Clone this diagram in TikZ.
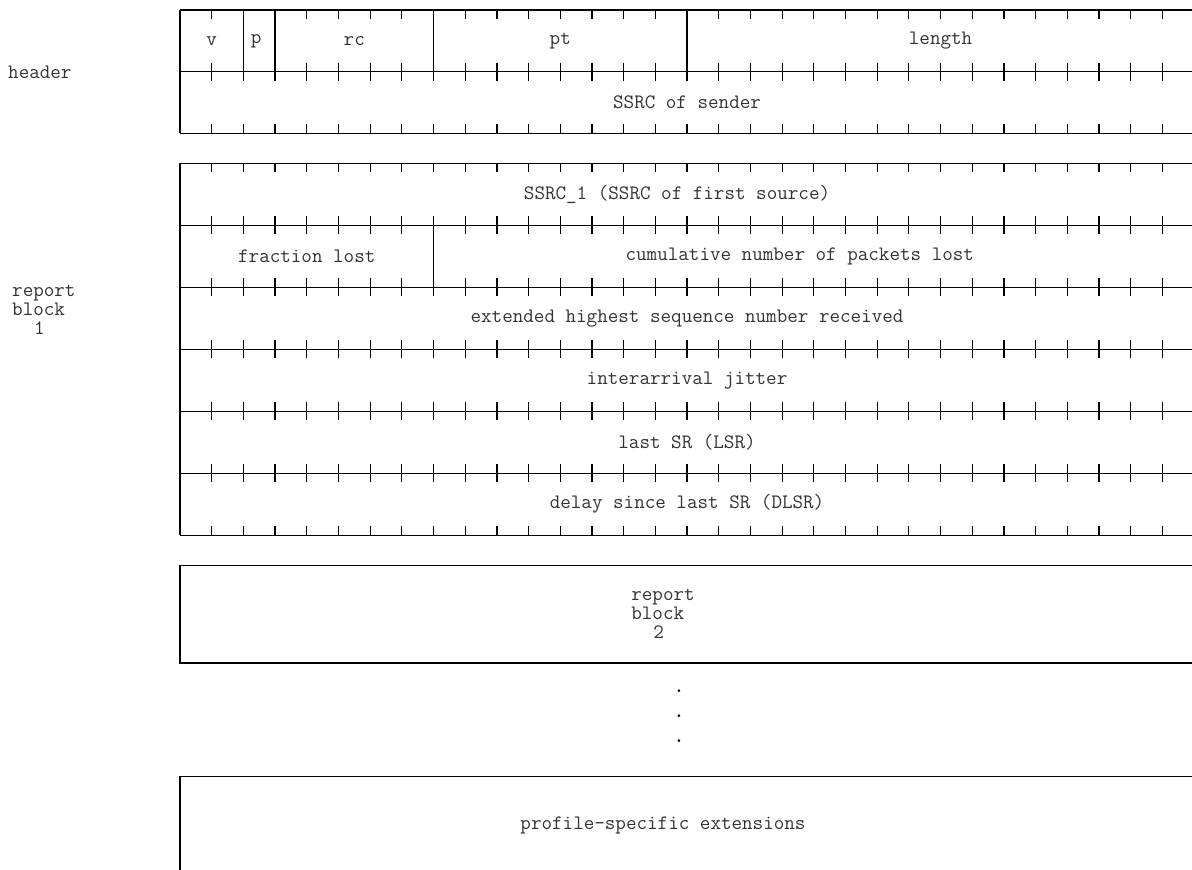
\documentclass[tikz,border=0pt]{standalone}
\usepackage{fontspec}
\begin{document}
\begin{tikzpicture}[x=1pt,y=-1pt,
  lbl/.style={font=\ttfamily\fontsize{20.5}{19}\selectfont, inner sep=0pt, text=black!80},
  dot/.style={font=\ttfamily\fontsize{24}{24}\selectfont, inner sep=0pt, text=black},
  rule/.style={line width=1.2pt, draw=black}]
\useasboundingbox (0,0) rectangle (1192,870);
\clip (0,0) rectangle (1192,870);
\def\bw{31.69}
\def\L{180}
% ---------------- header ----------------
\draw[rule] (\L,10) -- (1200,10);
\draw[rule] (\L,71.7) -- (1200,71.7);
\draw[rule] (\L,133.4) -- (1200,133.4);
\draw[rule] (\L,10) -- (\L,133.4);
\foreach \b in {2,3,8,16} \draw[rule] ({\L+\b*\bw},10) -- ({\L+\b*\bw},71.7);
\foreach \i in {1,...,31} {
  \draw[rule] ({\L+\i*\bw},10) -- ++(0,9);
  \draw[rule] ({\L+\i*\bw},62.7) -- ({\L+\i*\bw},80.7);
  \draw[rule] ({\L+\i*\bw},133.4) -- ++(0,-9);
}
\node[lbl] (v) at ({\L+1*\bw},41) {v};
\node[lbl] (p) at ({\L+2.4*\bw},41) {p};
\node[lbl] (rc) at ({\L+5.5*\bw},41) {rc};
\node[lbl] (pt) at ({\L+12*\bw},41) {pt};
\node[lbl] (len) at ({\L+24*\bw},41) {length};
\node[lbl] (ssrc) at ({\L+16*\bw},102.5) {SSRC of sender};
\node[lbl, anchor=west] (hdr) at (8,72) {header};
% ---------------- report block 1 ----------------
\draw[rule] (\L,163.3) -- (\L,535.3);
\foreach \y in {163.3,225.3,287.3,349.3,411.3,473.3,535.3}
  \draw[rule] (\L,\y) -- (1200,\y);
\draw[rule] ({\L+8*\bw},225.3) -- ({\L+8*\bw},287.3);
\foreach \i in {1,...,31} {
  \draw[rule] ({\L+\i*\bw},163.3) -- ++(0,9);
  \foreach \y in {225.3,287.3,349.3,411.3,473.3}
    \draw[rule] ({\L+\i*\bw},\y-9) -- ({\L+\i*\bw},\y+9);
  \draw[rule] ({\L+\i*\bw},535.3) -- ++(0,-9);
}
\node[lbl] (s1) at ({\L+16*\bw-10},194.5) {SSRC\_1 (SSRC of first source)};
\node[lbl] (fl) at ({\L+4*\bw},256.5) {fraction lost};
\node[lbl] (cum) at ({\L+20*\bw-14},256.5) {cumulative number of packets lost};
\node[lbl] (ext) at ({\L+16*\bw},318.5) {extended highest sequence number received};
\node[lbl] (jit) at ({\L+16*\bw},380.5) {interarrival jitter};
\node[lbl] (lsr) at ({\L+16*\bw},442) {last SR (LSR)};
\node[lbl] (dlsr) at ({\L+16*\bw},504) {delay since last SR (DLSR)};
\node[lbl, anchor=west, align=left] (rb1) at (12,310) {report\\block\\\hspace*{22pt}1};
% ---------------- report block 2 ----------------
\draw[rule] (1200,565.7) -- (\L,565.7) -- (\L,663) -- (1200,663);
\node[lbl, align=left] (rb2) at (663,614) {report\\block\\\hspace*{22pt}2};
% ---------------- dots ----------------
\node[dot] (d1) at (679,691) {.};
\node[dot] (d2) at (679,716) {.};
\node[dot] (d3) at (679,741) {.};
% ---------------- profile-specific extensions ----------------
\draw[rule] (1200,776.7) -- (\L,776.7) -- (\L,880);
\node[lbl] (pse) at (663,825) {profile-specific extensions};
\end{tikzpicture}
\end{document}
